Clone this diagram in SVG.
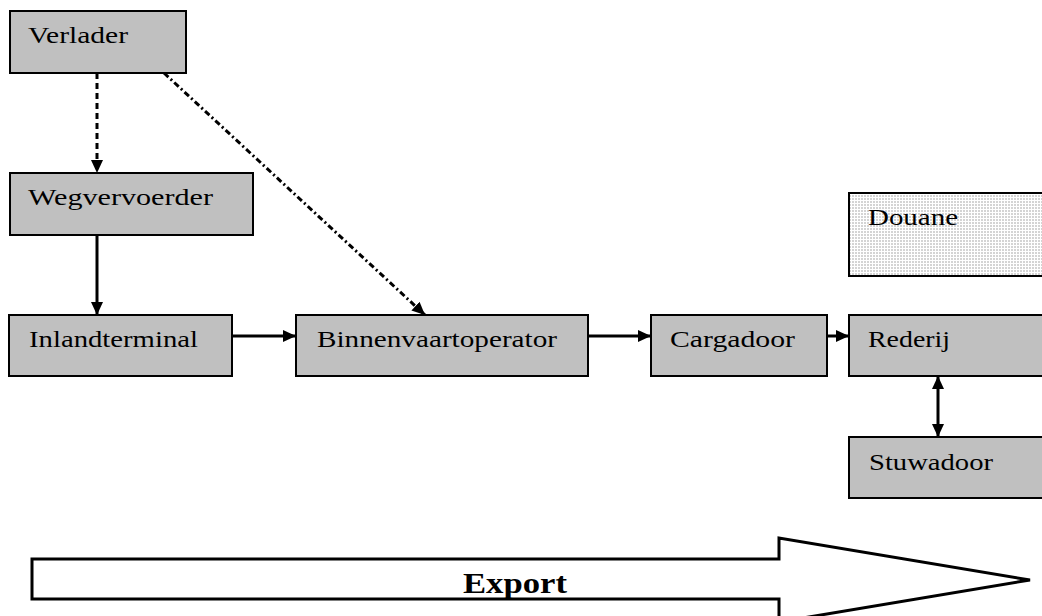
<svg xmlns="http://www.w3.org/2000/svg" width="1042" height="616" viewBox="0 0 1042 616">
<style>
.box{fill:#c0c0c0;stroke:#000;stroke-width:2}
.dot{fill:url(#dots);stroke:#000;stroke-width:2}
.lbl{font-family:"Liberation Serif","Times New Roman",serif;font-size:24px;fill:#000}
.exp{font-family:"Liberation Serif","Times New Roman",serif;font-size:30px;font-weight:bold;fill:#000}
.c{fill:none;stroke:#000;stroke-width:3}
</style>
<defs>
<pattern id="dots" width="3" height="3" patternUnits="userSpaceOnUse">
<rect width="3" height="3" fill="#fff"/>
<rect width="2" height="2" fill="#d4d4d4"/>
</pattern>
<marker id="ah" markerUnits="userSpaceOnUse" viewBox="0 0 13 12" refX="13" refY="6" markerWidth="13" markerHeight="12" orient="auto">
<path d="M0,0 L13,6 L0,12 Z" fill="#000"/>
</marker>
<marker id="ahs" markerUnits="userSpaceOnUse" viewBox="0 0 13 12" refX="0" refY="6" markerWidth="13" markerHeight="12" orient="auto">
<path d="M13,0 L0,6 L13,12 Z" fill="#000"/>
</marker>
</defs>
<g id="connectors">
<line class="c" x1="97" y1="73" x2="97" y2="173" stroke-dasharray="6 4" marker-end="url(#ah)"/>
<line class="c" x1="164" y1="73" x2="425" y2="315" stroke-width="2" stroke-dasharray="6 3 2 3" marker-end="url(#ah)"/>
<line class="c" x1="97" y1="235" x2="97" y2="315" marker-end="url(#ah)"/>
<line class="c" x1="232" y1="336" x2="296" y2="336" marker-end="url(#ah)"/>
<line class="c" x1="588" y1="336" x2="651" y2="336" marker-end="url(#ah)"/>
<line class="c" x1="827" y1="336" x2="849" y2="336" marker-end="url(#ah)"/>
<line class="c" x1="938" y1="376" x2="938" y2="437" marker-start="url(#ahs)" marker-end="url(#ah)"/>
</g>
<g id="verlader">
<rect class="box" x="10" y="11" width="176" height="62"/>
<text class="lbl" x="28" y="43" textLength="100" lengthAdjust="spacingAndGlyphs">Verlader</text>
</g>
<g id="wegvervoerder">
<rect class="box" x="10" y="173" width="243" height="62"/>
<text class="lbl" x="28" y="205" textLength="185" lengthAdjust="spacingAndGlyphs">Wegvervoerder</text>
</g>
<g id="inlandterminal">
<rect class="box" x="9" y="315" width="223" height="61"/>
<text class="lbl" x="29" y="347" textLength="169" lengthAdjust="spacingAndGlyphs">Inlandterminal</text>
</g>
<g id="binnenvaartoperator">
<rect class="box" x="296" y="315" width="292" height="61"/>
<text class="lbl" x="317" y="347" textLength="240" lengthAdjust="spacingAndGlyphs">Binnenvaartoperator</text>
</g>
<g id="cargadoor">
<rect class="box" x="651" y="315" width="176" height="61"/>
<text class="lbl" x="670" y="347" textLength="125" lengthAdjust="spacingAndGlyphs">Cargadoor</text>
</g>
<g id="rederij">
<rect class="box" x="849" y="315" width="210" height="61"/>
<text class="lbl" x="868" y="347" textLength="82" lengthAdjust="spacingAndGlyphs">Rederij</text>
</g>
<g id="douane">
<rect class="dot" x="849" y="193" width="210" height="83"/>
<text class="lbl" x="868" y="225" textLength="90" lengthAdjust="spacingAndGlyphs">Douane</text>
</g>
<g id="stuwadoor">
<rect class="box" x="849" y="437" width="210" height="61"/>
<text class="lbl" x="869" y="470" textLength="124" lengthAdjust="spacingAndGlyphs">Stuwadoor</text>
</g>
<g id="export">
<polygon points="32,559 779,559 779,538 1030,580 779,622 779,599 32,599" fill="#fff" stroke="#000" stroke-width="3"/>
<text class="exp" x="463" y="593" textLength="104" lengthAdjust="spacingAndGlyphs">Export</text>
</g>
</svg>
